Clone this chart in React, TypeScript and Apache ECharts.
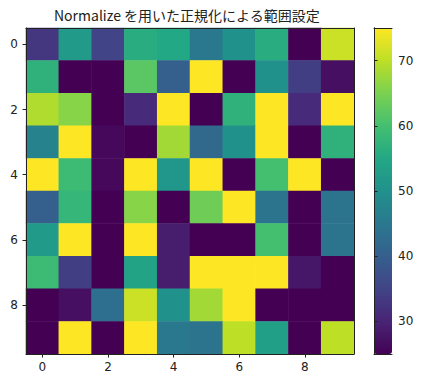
import React, { useEffect, useRef } from "react";
import * as echarts from "echarts";

const titleText = "Normalize を用いた正規化による範囲設定";
const xCategories = ["0", "1", "2", "3", "4", "5", "6", "7", "8", "9"];
const yCategories = ["0", "1", "2", "3", "4", "5", "6", "7", "8", "9"];
const vMin = 25;
const vMax = 75;
const colorbarTicks = [30, 40, 50, 60, 70];

const row0 = [33, 52, 35, 56, 55, 45, 50, 56, 25, 71];
const row1 = [57, 25, 25, 62, 40, 75, 25, 50, 34, 27];
const row2 = [69, 66, 25, 31, 75, 25, 57, 75, 31, 75];
const row3 = [47, 75, 26, 25, 68, 42, 50, 75, 25, 57];
const row4 = [75, 59, 26, 75, 51, 75, 25, 60, 75, 25];
const row5 = [40, 58, 25, 66, 25, 64, 75, 44, 25, 44];
const row6 = [52, 75, 25, 75, 29, 25, 25, 60, 25, 44];
const row7 = [59, 34, 25, 54, 29, 75, 75, 75, 28, 25];
const row8 = [25, 27, 43, 71, 50, 68, 75, 25, 25, 25];
const row9 = [25, 75, 25, 75, 45, 44, 70, 53, 25, 70];
const rows = [row0, row1, row2, row3, row4, row5, row6, row7, row8, row9];

const viridis = [
  "#440154", "#482475", "#414487", "#355f8d", "#2a788e", "#21918c",
  "#22a884", "#44bf70", "#7ad151", "#bddf26", "#fde725",
];

const FONT = "'DejaVu Sans', sans-serif";
const INK = "#222";

export default function App() {
  const ref = useRef<HTMLDivElement>(null);
  useEffect(() => {
    if (!ref.current) return;
    const chart = echarts.init(ref.current, undefined, { renderer: "svg" });
    const data: number[][] = [];
    rows.forEach((r, y) => r.forEach((v, x) => data.push([x, y, v])));
    const spine = { show: true, lineStyle: { color: INK, width: 1 } };
    chart.setOption({
      animation: false,
      backgroundColor: "#fff",
      title: {
        text: titleText,
        left: 54,
        top: 6,
        padding: 0,
        textStyle: {
          fontFamily: "'Noto Sans CJK JP', sans-serif",
          fontSize: 14,
          fontWeight: "normal",
          color: INK,
          lineHeight: 17,
        },
      },
      grid: [
        { left: 26, top: 28, width: 328, height: 326 },
        { left: 374, top: 28, width: 18, height: 326 },
      ],
      xAxis: [
        {
          type: "category",
          gridIndex: 0,
          data: xCategories,
          position: "bottom",
          z: 10,
          axisLine: spine,
          axisTick: { show: true, alignWithLabel: true, interval: 1, length: 3.5, lineStyle: { color: INK } },
          axisLabel: { interval: 1, fontFamily: FONT, fontSize: 12, color: INK, margin: 7 },
          splitLine: { show: false },
        },
        {
          type: "category",
          gridIndex: 0,
          data: xCategories,
          position: "top",
          z: 10,
          axisLine: spine,
          axisTick: { show: false },
          axisLabel: { show: false },
        },
        {
          type: "value",
          gridIndex: 1,
          min: 0,
          max: 1,
          position: "bottom",
          z: 10,
          axisLine: spine,
          axisTick: { show: false },
          axisLabel: { show: false },
          splitLine: { show: false },
        },
        {
          type: "value",
          gridIndex: 1,
          min: 0,
          max: 1,
          position: "top",
          z: 10,
          axisLine: spine,
          axisTick: { show: false },
          axisLabel: { show: false },
          splitLine: { show: false },
        },
      ],
      yAxis: [
        {
          type: "category",
          gridIndex: 0,
          data: yCategories,
          inverse: true,
          position: "left",
          z: 10,
          axisLine: spine,
          axisTick: { show: true, alignWithLabel: true, interval: 1, length: 3.5, lineStyle: { color: INK } },
          axisLabel: { interval: 1, fontFamily: FONT, fontSize: 12, color: INK, margin: 8 },
          splitLine: { show: false },
        },
        {
          type: "category",
          gridIndex: 0,
          data: yCategories,
          inverse: true,
          position: "right",
          z: 10,
          axisLine: spine,
          axisTick: { show: false },
          axisLabel: { show: false },
        },
        {
          type: "value",
          gridIndex: 1,
          min: vMin,
          max: vMax,
          position: "right",
          z: 10,
          axisLine: spine,
          axisTick: { show: true, length: 3.5, customValues: colorbarTicks, lineStyle: { color: INK } },
          axisLabel: { customValues: colorbarTicks, fontFamily: FONT, fontSize: 12, color: INK, margin: 6 },
          splitLine: { show: false },
        },
        {
          type: "value",
          gridIndex: 1,
          min: vMin,
          max: vMax,
          position: "left",
          z: 10,
          axisLine: spine,
          axisTick: { show: false },
          axisLabel: { show: false },
          splitLine: { show: false },
        },
      ],
      visualMap: {
        type: "continuous",
        seriesIndex: 0,
        min: vMin,
        max: vMax,
        calculable: false,
        left: 374,
        top: 28,
        padding: 0,
        itemWidth: 18,
        itemHeight: 326,
        orient: "vertical",
        inRange: { color: viridis },
        text: null,
        showLabel: false,
      },
      series: [
        {
          type: "heatmap",
          xAxisIndex: 0,
          yAxisIndex: 0,
          data,
          itemStyle: { borderWidth: 0 },
          emphasis: { disabled: true },
        },
      ],
    });
    return () => chart.dispose();
  }, []);
  return (
    <div
      ref={ref}
      style={{ position: "fixed", left: 0, top: 0, width: 425, height: 384, background: "#fff" }}
    />
  );
}
